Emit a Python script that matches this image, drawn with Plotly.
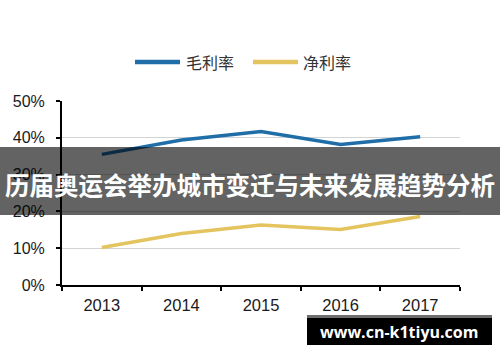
import plotly.graph_objects as go

years = ["2013", "2014", "2015", "2016", "2017"]
gross_margin = [0.355, 0.394, 0.417, 0.382, 0.403]
net_margin = [0.102, 0.140, 0.163, 0.151, 0.186]
series_names = ["毛利率", "净利率"]
series_colors = ["#1f6ea8", "#e3c45e"]
y_ticks = [0, 0.1, 0.2, 0.3, 0.4, 0.5]
y_tick_labels = ["0%", "10%", "20%", "30%", "40%", "50%"]
banner_text = "历届奥运会举办城市变迁与未来发展趋势分析"
watermark_text = "www.cn-k1tiyu.com"

W, H = 500, 362
L, R, T, B = 62, 40, 101, 77
PW, PH = W - L - R, H - T - B


def px(x):
    return (x - L) / PW


def py(y):
    return (H - B - y) / PH


fig = go.Figure()
for name, vals, col in zip(series_names, [gross_margin, net_margin], series_colors):
    fig.add_trace(go.Scatter(x=years, y=vals, mode="lines", name=name,
                             line=dict(color=col, width=3.5), showlegend=False))

shapes = []
annotations = []
# manual legend
leg = [(135, 180, 184), (253, 298, 301)]
for (x0, x1, tx), name, col in zip(leg, series_names, series_colors):
    shapes.append(dict(type="line", xref="paper", yref="paper", x0=px(x0), x1=px(x1),
                       y0=py(62), y1=py(62), line=dict(color=col, width=4.5)))
    annotations.append(dict(xref="paper", yref="paper", x=px(tx), y=py(62), text=name,
                            showarrow=False, xanchor="left", yanchor="middle",
                            font=dict(family="Noto Sans CJK SC", size=16, color="#333333")))

# banner
shapes.append(dict(type="rect", xref="paper", yref="paper", x0=px(0), x1=px(W),
                   y0=py(215), y1=py(147), fillcolor="rgba(0,0,0,0.61)",
                   line=dict(width=0), layer="above"))
annotations.append(dict(xref="paper", yref="paper", x=px(250), y=py(184), text="<b>" + banner_text + "</b>",
                        showarrow=False, xanchor="center", yanchor="middle",
                        font=dict(family="Noto Sans CJK SC", size=24.5, color="white")))
# watermark
shapes.append(dict(type="rect", xref="paper", yref="paper", x0=px(307), x1=px(492),
                   y0=py(318), y1=py(315), fillcolor="#6e6e6e", line=dict(width=0), layer="above"))
shapes.append(dict(type="rect", xref="paper", yref="paper", x0=px(307), x1=px(492),
                   y0=py(345), y1=py(318), fillcolor="#000000", line=dict(width=0), layer="above"))
annotations.append(dict(xref="paper", yref="paper", x=px(399), y=py(332), text="<b>" + watermark_text + "</b>",
                        showarrow=False, xanchor="center", yanchor="middle",
                        font=dict(family="Open Sans", size=16, color="white")))

fig.update_layout(
    width=W, height=H,
    margin=dict(l=L, r=R, t=T, b=B),
    plot_bgcolor="white", paper_bgcolor="white",
    shapes=shapes, annotations=annotations,
    xaxis=dict(type="category", range=[-0.5, 4.5], tickson="boundaries",
               ticks="outside", ticklen=4, tickwidth=1.5, tickcolor="black",
               showline=True, linecolor="black", linewidth=2, showgrid=False,
               ticklabelstandoff=4,
               tickfont=dict(family="Liberation Sans", size=16.5, color="#1a1a1a")),
    yaxis=dict(range=[0, 0.5], tickvals=y_ticks, ticktext=y_tick_labels,
               ticks="outside", ticklen=4, tickwidth=1.5, tickcolor="black",
               showline=True, linecolor="black", linewidth=2,
               showgrid=True, gridcolor="#d3d3d3", gridwidth=1, zeroline=False,
               ticklabelstandoff=8,
               tickfont=dict(family="Liberation Sans", size=16, color="#1a1a1a")),
)

fig.write_html("out.html", config={"displayModeBar": False},
               post_script="document.body.style.margin='0';document.body.style.overflow='hidden';")
